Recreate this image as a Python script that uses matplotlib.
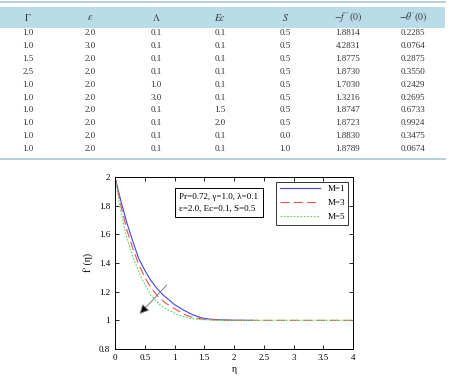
import matplotlib.pyplot as plt
import matplotlib.patches as patches

plt.rcParams['font.family'] = 'Liberation Serif'
plt.rcParams['mathtext.fontset'] = 'stix'

# table data
headers = [r'$\Gamma$', r'$\varepsilon$', r'$\Lambda$', r'$Ec$', r'$S$',
           r'$-f^{\prime\prime}(0)$', r'$-\theta^{\prime}(0)$']
col_gamma = ['1.0', '1.0', '1.5', '2.5', '1.0', '1.0', '1.0', '1.0', '1.0', '1.0']
col_eps = ['2.0', '3.0', '2.0', '2.0', '2.0', '2.0', '2.0', '2.0', '2.0', '2.0']
col_lam = ['0.1', '0.1', '0.1', '0.1', '1.0', '3.0', '0.1', '0.1', '0.1', '0.1']
col_ec = ['0.1', '0.1', '0.1', '0.1', '0.1', '0.1', '1.5', '2.0', '0.1', '0.1']
col_s = ['0.5', '0.5', '0.5', '0.5', '0.5', '0.5', '0.5', '0.5', '0.0', '1.0']
col_fpp = ['1.8814', '4.2831', '1.8775', '1.8730', '1.7030', '1.3216',
           '1.8747', '1.8723', '1.8830', '1.8789']
col_theta = ['0.2285', '0.0764', '0.2875', '0.3550', '0.2429', '0.2695',
             '0.6733', '0.9924', '0.3475', '0.0674']

# curve data f'(eta)
eta1 = [0, 0.1, 0.2, 0.3, 0.4, 0.5, 0.6, 0.7, 0.8, 1.0, 1.15, 1.3, 1.46, 1.6, 1.8, 2.0, 2.3]
f1 = [2.0, 1.83, 1.68, 1.55, 1.43, 1.35, 1.28, 1.225, 1.18, 1.11, 1.072, 1.04, 1.016,
      1.008, 1.003, 1.001, 1.0]
eta3 = [0, 0.1, 0.2, 0.3, 0.4, 0.5, 0.6, 0.7, 0.85, 1.04, 1.2, 1.34, 1.5, 1.7, 2.0, 4.0]
f3 = [2.0, 1.80, 1.63, 1.50, 1.39, 1.30, 1.23, 1.177, 1.12, 1.072, 1.035, 1.016, 1.007,
      1.002, 1.0, 1.0]
eta5 = [0, 0.08, 0.18, 0.32, 0.45, 0.6, 0.75, 0.89, 1.05, 1.23, 1.4, 1.6, 1.8, 4.0]
f5 = [2.0, 1.80, 1.60, 1.42, 1.29, 1.177, 1.11, 1.072, 1.04, 1.016, 1.006, 1.002, 1.0, 1.0]

W, H = 449, 379
fig = plt.figure(figsize=(W / 100, H / 100), dpi=100)


def fy(p):
    return 1 - p / H


# table lines and header band
fig.add_artist(plt.Line2D([0, 445 / W], [fy(1.5), fy(1.5)], color='#a9c6d2', lw=1.2))
fig.add_artist(patches.Rectangle((0, fy(28)), 445 / W, 21 / H, color='#b9dce8', lw=0))
fig.add_artist(plt.Line2D([0, 445 / W], [fy(159), fy(159)], color='#a9c6d2', lw=1.2))

col_x = [28, 90, 156, 220, 285, 348, 413]
for x, h in zip(col_x, headers):
    fig.text(x / W, fy(17.5), h, ha='center', va='center', fontsize=7, color='#333333')

columns = [col_gamma, col_eps, col_lam, col_ec, col_s, col_fpp, col_theta]
for j, col in enumerate(columns):
    for i, v in enumerate(col):
        fig.text(col_x[j] / W, fy(33 + i * 12.9), v, ha='center', va='center',
                 fontsize=6.5, color='#333333')

# chart
ax = fig.add_axes([115 / W, 30 / H, 238 / W, 172 / H])
ax.plot(eta1, f1, color='#4545e0', lw=0.8, label='M=1')
ax.plot(eta3, f3, color='#f05050', lw=0.8, ls=(0, (8, 4)), label='M=3')
ax.plot(eta5, f5, color='#50e050', lw=0.8, ls=(0, (1.5, 1.5)), label='M=5')
ax.set_xlim(0, 4)
ax.set_ylim(0.8, 2)
ax.set_xticks([0, 0.5, 1, 1.5, 2, 2.5, 3, 3.5, 4])
ax.set_xticklabels(['0', '0.5', '1', '1.5', '2', '2.5', '3', '3.5', '4'])
ax.set_yticks([0.8, 1, 1.2, 1.4, 1.6, 1.8, 2])
ax.set_yticklabels(['0.8', '1', '1.2', '1.4', '1.6', '1.8', '2'])
ax.tick_params(direction='in', top=True, right=True, labelsize=6.5, length=3, width=0.6)
for s in ax.spines.values():
    s.set_linewidth(0.7)
ax.set_xlabel('η', fontsize=7, labelpad=2)
ax.set_ylabel("f' (η)", fontsize=7, labelpad=4)

ax.text(0.27, 0.85, 'Pr=0.72, γ=1.0, λ=0.1\nε=2.0, Ec=0.1, S=0.5', transform=ax.transAxes,
        fontsize=6.5, va='center', ha='left', linespacing=1.6,
        bbox=dict(boxstyle='square,pad=0.5', fc='white', ec='black', lw=0.7))

leg = ax.legend(loc='upper right', fontsize=6.5, fancybox=False, edgecolor='black',
                handlelength=4.5, borderaxespad=0.5, labelspacing=0.6)
leg.get_frame().set_linewidth(0.7)

ax.annotate('', xy=(0.38, 1.03), xytext=(0.9, 1.26),
            arrowprops=dict(arrowstyle='-|>', ec='0.5', fc='k', lw=0.7, mutation_scale=14))

fig.savefig('out.png', dpi=100)
